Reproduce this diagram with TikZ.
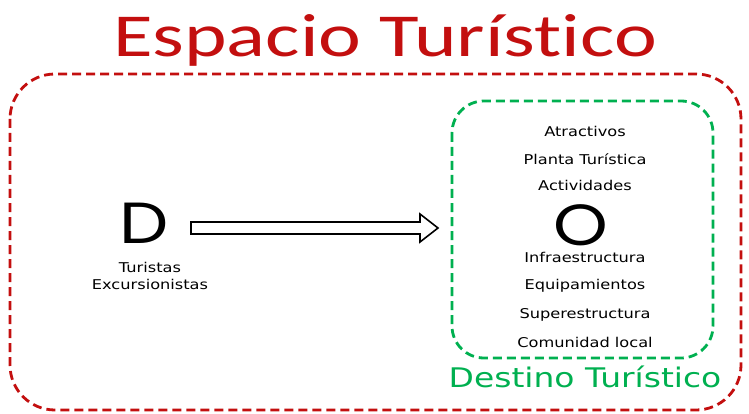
\documentclass[tikz,border=0pt]{standalone}
\usepackage{fontspec}
\setmainfont{DejaVu Sans}
\newfontfamily\titlefont{Carlito}[Ligatures=NoCommon]
\newfontfamily\letterfont{Poppins}
\usetikzlibrary{positioning,calc}
\definecolor{espacio}{RGB}{195,15,15}
\definecolor{destino}{RGB}{0,176,80}
\tikzset{
  item/.style={font=\fontsize{13.5}{14}\selectfont, inner sep=0pt, text=black, xscale=1.2},
  letter/.style={font=\letterfont\fontsize{58}{58}\selectfont, inner sep=0pt, xscale=1.2},
  zona/.style={dashed, dash pattern=on 9pt off 5pt, line width=2.8pt}
}
\begin{document}
\begin{tikzpicture}[x=1pt, y=-1pt]
    \useasboundingbox (0,0) rectangle (749,414);

    % espacio turistico
    \node (titulo) [anchor=base, text=espacio, inner sep=0pt, xscale=1.33,
        font=\titlefont\fontsize{61}{61}\selectfont] at (385,57) {Espacio Turístico};
    \draw[zona, espacio, rounded corners=45pt] (10,74) rectangle (741,410);

    % destino turistico
    \draw[zona, destino, rounded corners=32pt] (452,101) rectangle (713,358);
    \node (destino) [anchor=base, text=destino, inner sep=0pt, xscale=1.22,
        font=\fontsize{27}{27}\selectfont] at (585,387) {Destino Turístico};

    % origen
    \node (D) [letter, anchor=base] at (144,243) {D};
    \node (turistas) [item, anchor=base] at (150,272) {Turistas};
    \node (excursionistas) [item, below=17pt of turistas.base, anchor=base] {Excursionistas};

    % destino: O y sus componentes
    \node (O) [letter, anchor=base] at (581,245) {O};
    \node (atractivos) [item, anchor=base] at (585,137) {Atractivos};
    \node (planta) [item, below=28pt of atractivos.base, anchor=base] {Planta Turística};
    \node (actividades) [item, below=25pt of planta.base, anchor=base] {Actividades};
    \node (infra) [item, anchor=base] at (585,262) {Infraestructura};
    \node (equipamientos) [item, below=27pt of infra.base, anchor=base] {Equipamientos};
    \node (superestructura) [item, below=29pt of equipamientos.base, anchor=base] {Superestructura};
    \node (comunidad) [item, below=29pt of superestructura.base, anchor=base] {Comunidad local};

    % flecha D -> O
    \coordinate (cola) at (191,228);
    \coordinate (punta) at (438,228);
    \draw[line width=1.6pt, line join=miter]
        ($(cola)+(0,-6)$) -- ($(punta)+(-18,-6)$) -- ($(punta)+(-18,-14)$)
        -- (punta) -- ($(punta)+(-18,14)$) -- ($(punta)+(-18,6)$)
        -- ($(cola)+(0,6)$) -- cycle;
\end{tikzpicture}
\end{document}
